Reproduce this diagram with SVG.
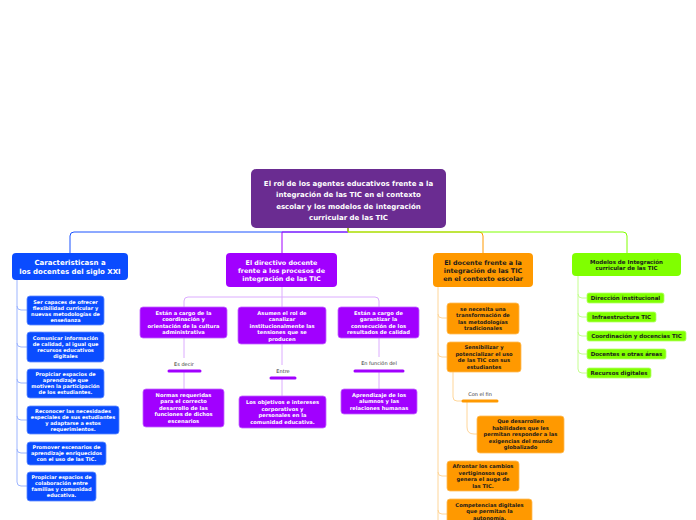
<svg xmlns="http://www.w3.org/2000/svg" width="696" height="520" viewBox="0 0 696 520">
<style>
text{font-family:"DejaVu Sans","Verdana",sans-serif;font-weight:bold;text-anchor:middle}
.w{fill:#ffffff}
.k{fill:#1a1a1a}
.lbl{font-weight:normal;fill:#333333;font-size:5px}
.root{fill:#6a2c91}
.blue{fill:#0a4cff}
.bluec{fill:#0a4cff;stroke:#5f8bff;stroke-width:0.8}
.pur{fill:#a100ff}
.purc{fill:#a100ff;stroke:#c266ff;stroke-width:0.8}
.org{fill:#ff9900}
.orgc{fill:#ff9900;stroke:#ffbb55;stroke-width:0.8}
.grn{fill:#80ff00}
.grnc{fill:#80ff00;stroke:#b3ff66;stroke-width:0.8}
.c{fill:none;stroke-width:1}
.cb{stroke:#1a53ff}
.cp{stroke:#a100ff}
.co{stroke:#ff9900}
.cg{stroke:#80ff00}
.lb{stroke:#9db5ff}
.lp{stroke:#dcacff}
.lo{stroke:#ffd699}
.lg{stroke:#c4ff8f}
.bar{fill:none;stroke-width:3;stroke-linecap:round}
.f5{font-size:5px}
.f52{font-size:5.2px}
.f55{font-size:5.5px}
.f64{font-size:6.4px}
.f7{font-size:7px}
</style>
<rect width="696" height="520" fill="#ffffff"/>
<g id="connectors">
<path class="c cb" d="M348,228 V232 H74 Q70,232 70,236 V253"/>
<path class="c cp" d="M348,228 V232 H282 V253"/>
<path class="c co" d="M348,228 V232 H479 Q483,232 483,236 V253"/>
<path class="c cg" d="M348,228 V232 H623 Q627,232 627,236 V253"/>
<path class="c lb" d="M17,280 V306 Q17,310 21,310 H27 M17,306 V343 Q17,347 21,347 H27 M17,343 V379 Q17,383 21,383 H27 M17,379 V416 Q17,420 21,420 H27 M17,416 V449 Q17,453 21,453 H27 M17,449 V482 Q17,486 21,486 H27"/>
<path class="c lp" d="M282,287 V297 H188 Q184,297 184,301 V307 M282,297 V307 M282,297 H375 Q379,297 379,301 V307"/>
<path class="c lp" d="M184,338 V358 M184,372 V389 M282,344 V365 M282,379 V396 M379,338 V357 M379,372 V389"/>
<path class="bar cp" d="M169,371 H200 M271,378 H295 M355,371 H403"/>
<path class="c lo" d="M438,287 V520 M438,314 Q438,318 442,318 H447 M438,353 Q438,357 442,357 H447 M438,472 Q438,476 442,476 H447 M438,510 Q438,514 442,514 H447"/>
<path class="c lo" d="M453,372 V397 Q453,401 457,401 H462 M467,402 V427 Q467,434 474,434 H477"/>
<path class="bar co" d="M463,401 H497"/>
<path class="c lg" d="M578,276 V294 Q578,298 582,298 H587 M578,313 Q578,317 582,317 H587 M578,332 Q578,336 582,336 H587 M578,350 Q578,354 582,354 H587 M578,369 Q578,373 582,373 H587 M578,294 V369"/>
</g>
<g id="root">
<rect class="root" x="251" y="169" width="195" height="59" rx="5"/>
<text class="w f7" x="348.5" y="185.8">El rol de los agentes educativos frente a la<tspan x="348.5" dy="11.5">integración de las TIC en el contexto</tspan><tspan x="348.5" dy="11.5">escolar y los modelos de integración</tspan><tspan x="348.5" dy="11.5">curricular de las TIC</tspan></text>
</g>
<g id="caracteristicas">
<rect class="blue" x="12" y="253" width="116" height="27" rx="4"/>
<text class="w f7" x="70" y="264.8">Caracteristicasn a<tspan x="70" dy="9.4">los docentes del siglo XXI</tspan></text>
</g>
<g id="b1">
<rect class="bluec" x="27" y="296" width="77" height="29" rx="3"/>
<text class="w f5" x="65.5" y="303.8">Ser capaces de ofrecer<tspan x="65.5" dy="6">flexibilidad curricular y</tspan><tspan x="65.5" dy="6">nuevas metodologías de</tspan><tspan x="65.5" dy="6">enseñanza</tspan></text>
</g>
<g id="b2">
<rect class="bluec" x="27" y="332" width="77" height="30" rx="3"/>
<text class="w f5" x="65.5" y="339.8">Comunicar información<tspan x="65.5" dy="6">de calidad, al igual que</tspan><tspan x="65.5" dy="6">recursos educativos</tspan><tspan x="65.5" dy="6">digitales</tspan></text>
</g>
<g id="b3">
<rect class="bluec" x="27" y="369" width="77" height="29" rx="3"/>
<text class="w f5" x="65.5" y="376.3">Propiciar espacios de<tspan x="65.5" dy="6">aprendizaje que</tspan><tspan x="65.5" dy="6">motiven la participación</tspan><tspan x="65.5" dy="6">de los estudiantes.</tspan></text>
</g>
<g id="b4">
<rect class="bluec" x="27" y="406" width="92" height="28" rx="3"/>
<text class="w f5" x="73" y="412.8">Reconocer las necesidades<tspan x="73" dy="6">especiales de sus estudiantes</tspan><tspan x="73" dy="6">y adaptarse a estos</tspan><tspan x="73" dy="6">requerimientos.</tspan></text>
</g>
<g id="b5">
<rect class="bluec" x="27" y="442" width="79" height="23" rx="3"/>
<text class="w f5" x="66.5" y="449.3">Promover escenarios de<tspan x="66.5" dy="6">aprendizaje enriquecidos</tspan><tspan x="66.5" dy="6">con el uso de las TIC.</tspan></text>
</g>
<g id="b6">
<rect class="bluec" x="27" y="472" width="69" height="29" rx="3"/>
<text class="w f5" x="61.5" y="479.3">Propiciar espacios de<tspan x="61.5" dy="6">colaboración entre</tspan><tspan x="61.5" dy="6">familias y comunidad</tspan><tspan x="61.5" dy="6">educativa.</tspan></text>
</g>
<g id="directivo">
<rect class="pur" x="226" y="253" width="111" height="34" rx="4"/>
<text class="w f64" x="281.5" y="265">El directivo docente<tspan x="281.5" dy="8">frente a los procesos de</tspan><tspan x="281.5" dy="8">integración de las TIC</tspan></text>
</g>
<g id="p1">
<rect class="purc" x="140" y="307" width="87" height="31" rx="3"/>
<text class="w f52" x="183.5" y="314.6">Están a cargo de la<tspan x="183.5" dy="6.5">coordinación y</tspan><tspan x="183.5" dy="6.5">orientación de la cultura</tspan><tspan x="183.5" dy="6.5">administrativa</tspan></text>
</g>
<g id="p2">
<rect class="purc" x="238" y="307" width="88" height="37" rx="3"/>
<text class="w f52" x="282" y="315">Asumen el rol de<tspan x="282" dy="6.4">canalizar</tspan><tspan x="282" dy="6.4">institucionalmente las</tspan><tspan x="282" dy="6.4">tensiones que se</tspan><tspan x="282" dy="6.4">producen</tspan></text>
</g>
<g id="p3">
<rect class="purc" x="338" y="307" width="81" height="31" rx="3"/>
<text class="w f52" x="378.5" y="314.6">Están a cargo de<tspan x="378.5" dy="6.5">garantizar la</tspan><tspan x="378.5" dy="6.5">consecución de los</tspan><tspan x="378.5" dy="6.5">resultados de calidad</tspan></text>
</g>
<g id="l1"><text class="lbl" x="184" y="365.8">Es decir</text></g>
<g id="l2"><text class="lbl" x="283" y="372.8">Entre</text></g>
<g id="l3"><text class="lbl" x="379" y="364.8">En función del</text></g>
<g id="pg1">
<rect class="purc" x="143" y="389" width="81" height="38" rx="3"/>
<text class="w f52" x="183.5" y="396.9">Normas requeridas<tspan x="183.5" dy="6.5">para el correcto</tspan><tspan x="183.5" dy="6.5">desarrollo de las</tspan><tspan x="183.5" dy="6.5">funciones de dichos</tspan><tspan x="183.5" dy="6.5">escenarios</tspan></text>
</g>
<g id="pg2">
<rect class="purc" x="239" y="396" width="87" height="32" rx="3"/>
<text class="w f52" x="282.5" y="404.1">Los objetivos e intereses<tspan x="282.5" dy="6.5">corporativos y</tspan><tspan x="282.5" dy="6.5">personales en la</tspan><tspan x="282.5" dy="6.5">comunidad educativa.</tspan></text>
</g>
<g id="pg3">
<rect class="purc" x="341" y="389" width="76" height="25" rx="3"/>
<text class="w f52" x="379" y="396.9">Aprendizaje de los<tspan x="379" dy="6.5">alumnos y las</tspan><tspan x="379" dy="6.5">relaciones humanas</tspan></text>
</g>
<g id="docente">
<rect class="org" x="433" y="253" width="100" height="34" rx="4"/>
<text class="k f64" x="483" y="264.5">El docente frente a la<tspan x="483" dy="8">integración de las TIC</tspan><tspan x="483" dy="8">en el contexto escolar</tspan></text>
</g>
<g id="o1">
<rect class="orgc" x="447" y="303" width="72" height="31" rx="3"/>
<text class="k f52" x="483" y="310.6">se necesita una<tspan x="483" dy="6.5">transformación de</tspan><tspan x="483" dy="6.5">las metodologías</tspan><tspan x="483" dy="6.5">tradicionales</tspan></text>
</g>
<g id="o2">
<rect class="orgc" x="447" y="342" width="74" height="30" rx="3"/>
<text class="k f52" x="484" y="349.1">Sensibilizar y<tspan x="484" dy="6.5">potencializar el uso</tspan><tspan x="484" dy="6.5">de las TIC con sus</tspan><tspan x="484" dy="6.5">estudiantes</tspan></text>
</g>
<g id="l4"><text class="lbl" x="480" y="395.8">Con el fin</text></g>
<g id="og">
<rect class="orgc" x="477" y="416" width="87" height="37" rx="3"/>
<text class="k f52" x="520.5" y="423.4">Que desarrollen<tspan x="520.5" dy="6.5">habilidades que les</tspan><tspan x="520.5" dy="6.5">permitan responder a las</tspan><tspan x="520.5" dy="6.5">exigencias del mundo</tspan><tspan x="520.5" dy="6.5">globalizado</tspan></text>
</g>
<g id="o3">
<rect class="orgc" x="447" y="461" width="72" height="30" rx="3"/>
<text class="k f52" x="483" y="468.1">Afrontar los cambios<tspan x="483" dy="6.5">vertiginosos que</tspan><tspan x="483" dy="6.5">genera el auge de</tspan><tspan x="483" dy="6.5">las TIC.</tspan></text>
</g>
<g id="o4">
<rect class="orgc" x="447" y="499" width="85" height="30" rx="3"/>
<text class="k f52" x="489.5" y="506.9">Competencias digitales<tspan x="489.5" dy="6.5">que permitan la</tspan><tspan x="489.5" dy="6.5">autonomía.</tspan></text>
</g>
<g id="modelos">
<rect class="grn" x="572" y="253" width="109" height="23" rx="4"/>
<text class="k f55" x="626.5" y="263.7">Modelos de Integración<tspan x="626.5" dy="6.6">curricular de las TIC</tspan></text>
</g>
<g id="g1">
<rect class="grnc" x="587" y="293" width="77" height="10" rx="2"/>
<text class="k f55" x="625.5" y="300">Dirección institucional</text>
</g>
<g id="g2">
<rect class="grnc" x="587" y="312" width="69" height="10" rx="2"/>
<text class="k f55" x="621.5" y="319">Infraestructura TIC</text>
</g>
<g id="g3">
<rect class="grnc" x="587" y="331" width="99" height="10" rx="2"/>
<text class="k f55" x="636.5" y="338">Coordinación y docencias TIC</text>
</g>
<g id="g4">
<rect class="grnc" x="587" y="349" width="79" height="10" rx="2"/>
<text class="k f55" x="626.5" y="356">Docentes e otras áreas</text>
</g>
<g id="g5">
<rect class="grnc" x="587" y="368" width="64" height="10" rx="2"/>
<text class="k f55" x="619" y="375">Recursos digitales</text>
</g>
</svg>
